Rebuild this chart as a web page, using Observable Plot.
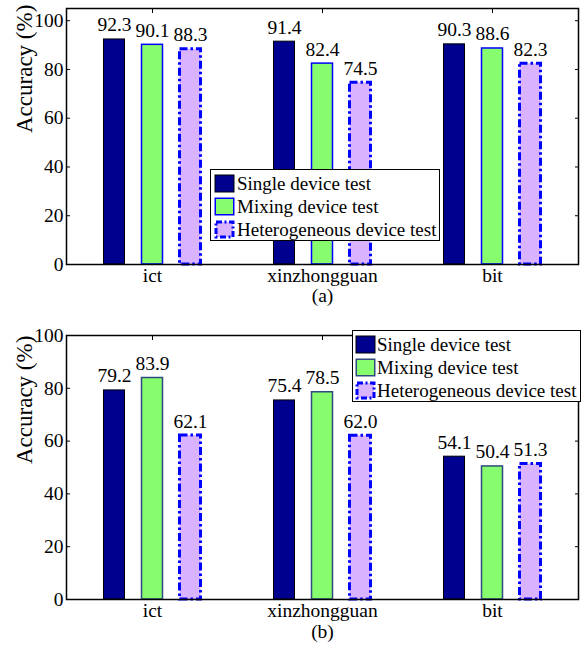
<!DOCTYPE html>
<html>
<head>
<meta charset="utf-8">
<script src="https://cdn.jsdelivr.net/npm/d3@7"></script>
<script src="https://cdn.jsdelivr.net/npm/@observablehq/plot@0.6"></script>
<style>
  body { margin: 0; background: #fff; }
  #wrap { position: relative; width: 581px; height: 650px; font-family: "Liberation Serif", "Times New Roman", serif; color: #000; }
  .panel { position: absolute; left: 0; }
  .panel text { font-family: "Liberation Serif", "Times New Roman", serif; }
  .legend { position: absolute; background: #fff; border: 1px solid #000; box-sizing: border-box; padding-top: 2px; }
  .legend .row { display: flex; align-items: center; height: 23px; font-size: 19px; white-space: nowrap; }
  .legend svg { display: block; flex: none; }
</style>
</head>
<body>
<div id="wrap"></div>
<script>
// ---- data ----
const categories = ["ict", "xinzhongguan", "bit"];
const series = ["Single device test", "Mixing device test", "Heterogeneous device test"];
const singleA = [92.3, 91.4, 90.3];
const mixingA = [90.1, 82.4, 88.6];
const heteroA = [88.3, 74.5, 82.3];
const singleB = [79.2, 75.4, 54.1];
const mixingB = [83.9, 78.5, 50.4];
const heteroB = [62.1, 62.0, 51.3];
const yTicks = [0, 20, 40, 60, 80, 100];
const captions = ["(a)", "(b)"];
const yLabel = "Accuracy (%)";

// ---- styles ----
const fills = ["#00008f", "#87fc6e", "#d9b3ff"];
const strokeWidths = [1, 1.5, 3];
const dashes = [null, null, "8,3,2.5,3"];
const offsets = [-38, 0, 38];
const FONT = "'Liberation Serif', 'Times New Roman', serif";

function makeRows(vals) {
  return categories.flatMap((c, i) => series.map((s, j) => ({cat: c, series: s, idx: j, value: vals[j][i]})));
}

function panel({vals, yMax, height, marginTop, marginBottom, caption, captionDy, strokes}) {
  const rows = makeRows(vals);
  const marks = [];
  // inward ticks
  marks.push(Plot.axisY({anchor: "left", ticks: yTicks, tickSize: -4, tickPadding: 7, label: null, fontSize: 19.5}));
  marks.push(Plot.axisY({anchor: "right", ticks: yTicks, tickSize: -4, fill: "none", label: null}));
  marks.push(Plot.axisX({anchor: "top", tickSize: -4, fill: "none", label: null}));
  marks.push(Plot.axisX({anchor: "bottom", tickSize: -4, tickPadding: 8, label: null, fontSize: 19.5}));
  series.forEach((s, j) => {
    const data = rows.filter(d => d.idx === j);
    marks.push(Plot.barY(data, {
      x: "cat", y: "value", fill: fills[j], stroke: strokes[j], strokeWidth: strokeWidths[j],
      strokeDasharray: dashes[j], insetLeft: 74.5, insetRight: 74.5, dx: offsets[j]
    }));
    marks.push(Plot.text(data, {
      x: "cat", y: "value", text: d => d.value.toFixed(1), dx: offsets[j], dy: -8,
      lineAnchor: "bottom", fontSize: 19.5
    }));
  });
  marks.push(Plot.frame({strokeWidth: 1.5}));
  marks.push(Plot.text([yLabel], {frameAnchor: "left", rotate: -90, dx: -42, dy: -3.5, fontSize: 23}));
  marks.push(Plot.text([caption], {frameAnchor: "bottom", dy: captionDy, fontSize: 19.5}));
  return Plot.plot({
    width: 581, height, marginLeft: 66, marginRight: 3, marginTop, marginBottom,
    style: {fontFamily: FONT, fontSize: "19px", color: "#000", background: "#fff", overflow: "visible"},
    x: {domain: categories, padding: 0},
    y: {domain: [0, yMax]},
    marks
  });
}

function legend({left, top, width, height, strokes, swW, gap, padLeft}) {
  const div = document.createElement("div");
  div.className = "legend";
  Object.assign(div.style, {left: left + "px", top: top + "px", width: width + "px", height: height + "px", paddingLeft: padLeft + "px"});
  series.forEach((s, j) => {
    const row = document.createElement("div");
    row.className = "row";
    const sw = d3.create("svg").attr("width", swW).attr("height", 19);
    const sWidth = strokeWidths[j];
    sw.append("rect")
      .attr("x", sWidth / 2 + 0.5).attr("y", sWidth / 2 + 0.5)
      .attr("width", swW - sWidth - 1).attr("height", 18 - sWidth)
      .attr("fill", fills[j]).attr("stroke", strokes[j]).attr("stroke-width", sWidth)
      .attr("stroke-dasharray", dashes[j] ? "6,2.5,2,2.5" : null);
    row.appendChild(sw.node());
    const t = document.createElement("span");
    t.textContent = s;
    t.style.marginLeft = gap + "px";
    row.appendChild(t);
    div.appendChild(row);
  });
  return div;
}

const wrap = document.getElementById("wrap");
const strokesA = ["#000000", "#0000ff", "#0000ff"];
const strokesB = ["#000000", "#2e4a7d", "#0000ff"];

const pa = panel({vals: [singleA, mixingA, heteroA], yMax: 105, height: 320, marginTop: 8, marginBottom: 56,
  caption: captions[0], captionDy: 37, strokes: strokesA});
pa.classList.add("panel"); pa.style.top = "0px";
wrap.appendChild(pa);

const pb = panel({vals: [singleB, mixingB, heteroB], yMax: 100, height: 330, marginTop: 15, marginBottom: 51,
  caption: captions[1], captionDy: 38, strokes: strokesB});
pb.classList.add("panel"); pb.style.top = "320px";
wrap.appendChild(pb);

wrap.appendChild(legend({left: 210, top: 169, width: 230, height: 72, strokes: strokesA, swW: 21, gap: 2, padLeft: 3}));
wrap.appendChild(legend({left: 352, top: 330, width: 229, height: 72, strokes: strokesB, swW: 21, gap: 1, padLeft: 2}));
</script>
</body>
</html>
